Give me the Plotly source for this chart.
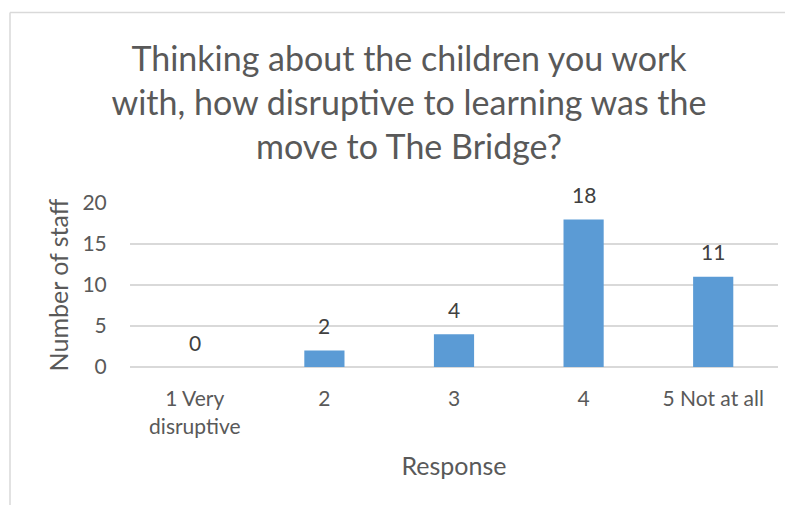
import plotly.graph_objects as go

categories = ["1 Very<br>disruptive", "2", "3", "4", "5 Not at all"]
values = [0, 2, 4, 18, 11]
y_ticks = [0, 5, 10, 15, 20]

title_text = "Thinking about the children you work<br>with, how disruptive to learning was the<br>move to The Bridge?"
FONT = "Lato"
BAR_COLOR = "#5B9BD5"
GRID = "#D9D9D9"

fig = go.Figure()
fig.add_trace(go.Bar(x=categories, y=values, marker=dict(color=BAR_COLOR, line=dict(width=0)),
                     hoverinfo="x+y"))

# value labels, placed at category index positions
for i, v in enumerate(values):
    fig.add_annotation(x=i, y=v, text=str(v), showarrow=False, yanchor="middle", yshift=25,
                       font=dict(family=FONT, size=21, color="#404040"))

OFF = 8  # page body margin
L, R, T, B = 130 - OFF, 15, 203 - OFF, 138
W, H = 793 - OFF, 505 - OFF
pw, ph = W - L - R, H - T - B
fx = (10 - OFF - L) / pw
fy = 1 + (T - (12.5 - OFF)) / ph
fig.add_shape(type="line", xref="paper", yref="paper", x0=fx, x1=fx, y0=-2, y1=fy,
              line=dict(color=GRID, width=1.5))
fig.add_shape(type="line", xref="paper", yref="paper", x0=fx, x1=1.2, y0=fy, y1=fy,
              line=dict(color=GRID, width=1.5))

fig.update_layout(
    width=W, height=H, autosize=False,
    margin=dict(l=L, r=R, t=T, b=B),
    paper_bgcolor="white", plot_bgcolor="white",
    bargap=0.69,
    showlegend=False,
    title=dict(text=title_text, x=(409 - OFF) / W, xanchor="center",
               y=1 - 63 / H, yanchor="top",
               font=dict(family=FONT, size=34, color="#595959")),
    xaxis=dict(showgrid=False, showline=False, zeroline=False,
               ticks="outside", ticklen=13, tickcolor="rgba(0,0,0,0)",
               tickfont=dict(family=FONT, size=21, color="#595959"),
               title=dict(text="Response", standoff=20,
                          font=dict(family=FONT, size=25, color="#595959"))),
    yaxis=dict(range=[0, 20], tickvals=y_ticks, showgrid=True, gridcolor=GRID, gridwidth=1.5,
               zeroline=True, zerolinecolor=GRID, zerolinewidth=1.5, showline=False,
               ticks="outside", ticklen=18, tickcolor="rgba(0,0,0,0)",
               tickfont=dict(family=FONT, size=21, color="#595959"),
               title=dict(text="Number of staff", standoff=6,
                          font=dict(family=FONT, size=25, color="#595959"))),
)

fig.write_html("out.html")
